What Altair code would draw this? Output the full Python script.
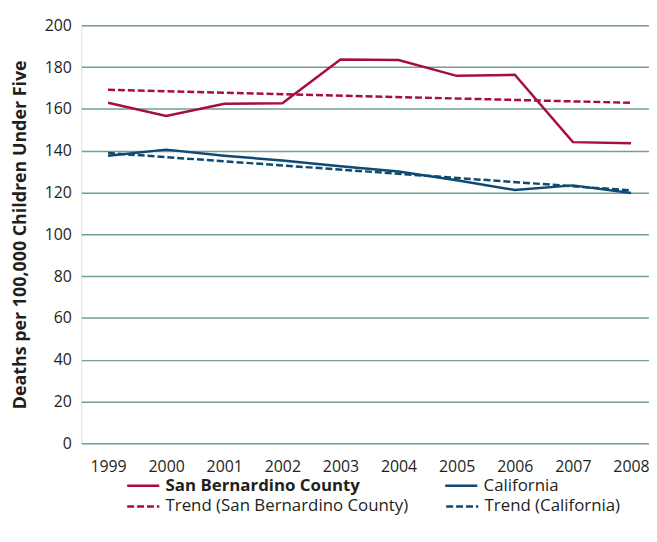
import altair as alt
import pandas as pd

years = [1999, 2000, 2001, 2002, 2003, 2004, 2005, 2006, 2007, 2008]
san_bernardino = [162.9, 156.6, 162.4, 162.7, 183.6, 183.4, 175.8, 176.3, 144.1, 143.6]
california = [137.6, 140.5, 137.6, 135.3, 132.6, 130.0, 125.9, 121.2, 123.4, 119.8]
trend_years = [1999, 2008]
trend_sb = [169.1, 162.9]
trend_ca = [138.9, 121.0]

solid_names = ["San Bernardino County", "California"]
trend_names = ["Trend (San Bernardino County)", "Trend (California)"]
series_colors = ["#a50f3a", "#0e4a72"]
trend_dash = [7, 3]
y_ticks = [0, 20, 40, 60, 80, 100, 120, 140, 160, 180, 200]

rows = []
for y, v in zip(years, san_bernardino):
    rows.append({"year": y, "value": v, "series": solid_names[0]})
for y, v in zip(years, california):
    rows.append({"year": y, "value": v, "series": solid_names[1]})
solid_df = pd.DataFrame(rows)

rows = []
for y, v in zip(trend_years, trend_sb):
    rows.append({"year": y, "value": v, "series": trend_names[0]})
for y, v in zip(trend_years, trend_ca):
    rows.append({"year": y, "value": v, "series": trend_names[1]})
trend_df = pd.DataFrame(rows)

FONT = "Open Sans"
TEXT = "#231f20"

common_legend = dict(
    title=None, orient="none", direction="horizontal",
    symbolType="stroke", symbolSize=1050, symbolStrokeWidth=2.5,
    labelFontSize=17, labelFont=FONT, labelColor=TEXT, labelLimit=400,
    labelOffset=5, legendX=45,
)

x_enc = alt.X("year:Q",
              scale=alt.Scale(domain=[1998.54, 2008.31], nice=False, zero=False),
              axis=alt.Axis(values=years, format="d", title=None, grid=False,
                            domain=False, ticks=False, labelPadding=15,
                            labelFontSize=16, labelColor=TEXT, labelFont=FONT))
y_enc = alt.Y("value:Q",
              scale=alt.Scale(domain=[0, 200], nice=False),
              axis=alt.Axis(values=y_ticks, title="Deaths per 100,000 Children Under Five",
                            titleFontSize=18, titleFontWeight="bold", titleFont=FONT,
                            titleColor=TEXT, titlePadding=15,
                            grid=True, gridColor="#72a08f", gridWidth=1.5,
                            domain=False, ticks=False, labelPadding=10,
                            labelFontSize=16, labelColor=TEXT, labelFont=FONT))

trend = alt.Chart(trend_df).mark_line(strokeWidth=2.5, strokeDash=trend_dash).encode(
    x=x_enc, y=y_enc,
    color=alt.Color("series:N",
                    scale=alt.Scale(domain=trend_names, range=series_colors),
                    legend=alt.Legend(legendY=468, columnPadding=32,
                                      symbolDash=trend_dash, **common_legend)),
)

solid = alt.Chart(solid_df).mark_line(strokeWidth=2.5).encode(
    x=x_enc, y=y_enc,
    color=alt.Color("series:N",
                    scale=alt.Scale(domain=solid_names, range=series_colors),
                    legend=alt.Legend(
                        legendY=447, columnPadding=80,
                        labelFontWeight={"expr": "datum.label == 'San Bernardino County' ? 'bold' : 'normal'"},
                        **common_legend)),
)

chart = alt.layer(trend, solid).resolve_scale(color="independent").properties(
    width=573, height=422,
    padding={"left": 74, "top": 15, "right": 0, "bottom": 80},
    autosize=alt.AutoSizeParams(type="none"),
).configure_view(stroke=None).configure(background="white")

chart.save("out.html", embed_options={"renderer": "svg", "actions": False})
